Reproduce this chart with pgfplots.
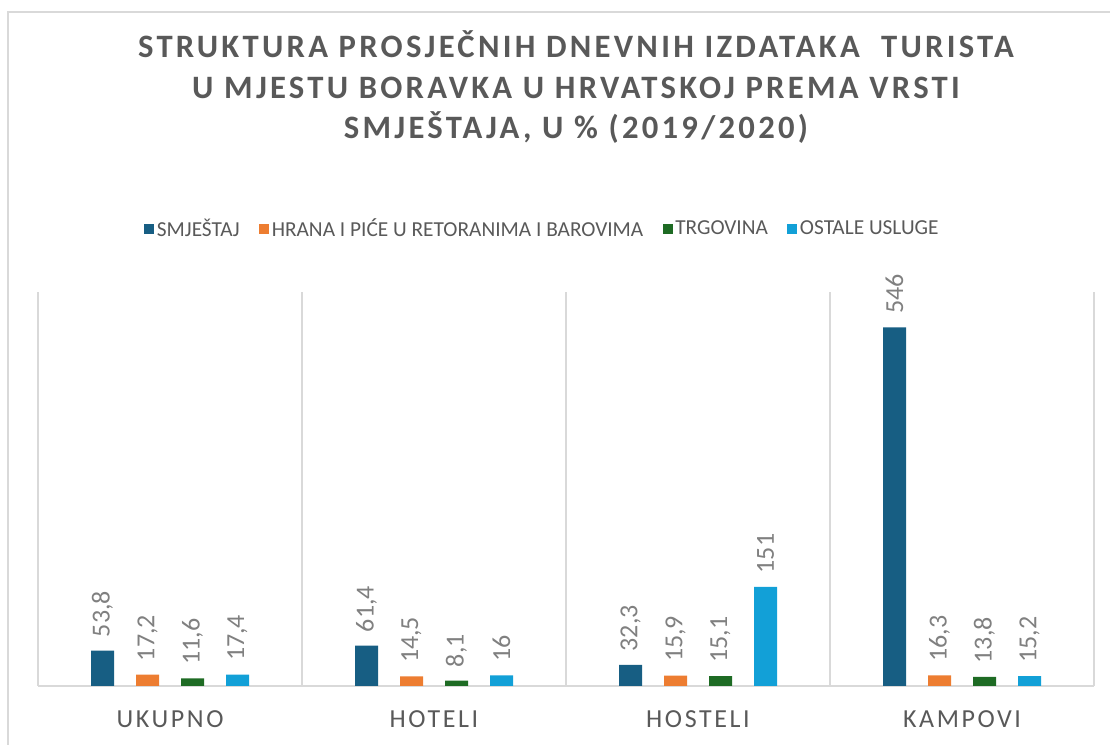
\documentclass[border=0pt]{standalone}
\usepackage{fontspec}
\setmainfont{Carlito}
\newfontfamily\titlefont[LetterSpace=10]{Carlito}
\newfontfamily\catfont[LetterSpace=10]{Carlito}
\usepackage{pgfplots}
\pgfplotsset{compat=1.18}
\definecolor{cA}{HTML}{175E83}
\definecolor{cB}{HTML}{ED7D31}
\definecolor{cC}{HTML}{1E6B24}
\definecolor{cD}{HTML}{12A0D7}
\definecolor{txt}{HTML}{595959}
\definecolor{lbl}{HTML}{808080}
\definecolor{grd}{HTML}{D9D9D9}
\begin{document}
\begin{tikzpicture}
\path[use as bounding box] (0,0) rectangle (832.5pt,558.75pt);
\draw[grd, line width=1.4pt] (6pt,0) -- (6pt,549.75pt) -- (832.5pt,549.75pt);
\node[anchor=base, text=txt, font=\titlefont\bfseries\fontsize{24.5}{28}\selectfont] at (432pt,515.25pt) {STRUKTURA PROSJEČNIH DNEVNIH IZDATAKA\ \ TURISTA};
\node[anchor=base, text=txt, font=\titlefont\bfseries\fontsize{24.5}{28}\selectfont] at (432pt,484.5pt) {U MJESTU BORAVKA U HRVATSKOJ PREMA VRSTI};
\node[anchor=base, text=txt, font=\titlefont\bfseries\fontsize{24.5}{28}\selectfont] at (432pt,454.5pt) {SMJEŠTAJA, U \% (2019/2020)};
\begin{axis}[
  at={(28.5pt,44.25pt)}, anchor=south west,
  scale only axis, width=792pt, height=295.5pt,
  xmin=-0.5, xmax=3.5, ymin=0, ymax=600,
  clip=false,
  ybar=16.5pt, bar width=17.25pt,
  axis x line*=bottom, axis y line=none,
  x axis line style={draw=grd, line width=1.4pt},
  xtick={-0.5,0.5,1.5,2.5,3.5}, xticklabels={,,,,},
  major tick length=0pt,
  xmajorgrids, major grid style={draw=grd, line width=1.4pt},
  extra x ticks={0,1,2,3},
  extra x tick labels={UKUPNO,HOTELI,HOSTELI,KAMPOVI},
  extra x tick style={grid=none, major tick length=0pt,
    xticklabel style={anchor=base, yshift=-31.5pt, text=txt, font=\catfont\fontsize{19.5}{22}\selectfont}},
  /pgf/number format/.cd, use comma, fixed, precision=1, 1000 sep={}, assume math mode=true,
  /pgfplots/.cd,
  nodes near coords,
  every node near coord/.append style={rotate=90, anchor=west, inner xsep=10pt, text=lbl, font=\fontsize{19.5}{22}\selectfont},
  legend columns=4,
  legend image code/.code={\fill[#1] (0pt,-3.75pt) rectangle (7.5pt,3.75pt);},
  legend style={at={(0.478,1.16)}, anchor=center, draw=none, fill=none,
    font=\fontsize{16}{19}\selectfont, text=txt,
    /tikz/every even column/.append style={column sep=12.5pt},
    /tikz/every odd column/.append style={column sep=0pt},
    inner sep=0pt},
]
\addplot[fill=cA, draw=none] coordinates {(0,53.8) (1,61.4) (2,32.3) (3,546)};
\addplot[fill=cB, draw=none] coordinates {(0,17.2) (1,14.5) (2,15.9) (3,16.3)};
\addplot[fill=cC, draw=none] coordinates {(0,11.6) (1,8.1) (2,15.1) (3,13.8)};
\addplot[fill=cD, draw=none] coordinates {(0,17.4) (1,16) (2,151) (3,15.2)};
\legend{SMJEŠTAJ,HRANA I PIĆE U RETORANIMA I BAROVIMA,TRGOVINA,OSTALE USLUGE}
\end{axis}
\end{tikzpicture}
\end{document}
